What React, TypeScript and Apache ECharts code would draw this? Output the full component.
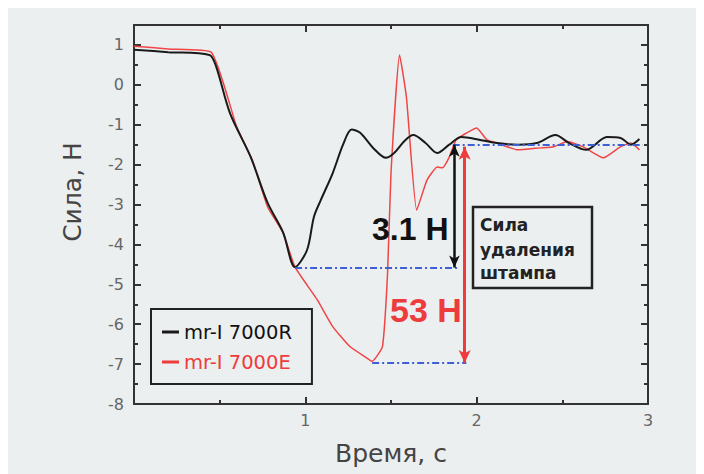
import React, { useEffect, useRef } from "react";
import * as echarts from "echarts";

// Time (s) and force (N) for the two resists
const timeR = [0, 0.2, 0.44, 0.48, 0.56, 0.68, 0.78, 0.87, 0.94, 1.01, 1.05, 1.09, 1.16, 1.22, 1.27, 1.32, 1.4, 1.47, 1.52, 1.58, 1.63, 1.7, 1.77, 1.84, 1.91, 2.02, 2.12, 2.24, 2.35, 2.46, 2.54, 2.64, 2.76, 2.84, 2.9, 2.95];
const forceR = [0.88, 0.82, 0.75, 0.45, -0.71, -1.8, -2.96, -3.7, -4.57, -4.14, -3.31, -2.89, -2.21, -1.5, -1.12, -1.2, -1.6, -1.83, -1.7, -1.4, -1.26, -1.45, -1.71, -1.5, -1.31, -1.38, -1.46, -1.5, -1.46, -1.26, -1.46, -1.63, -1.31, -1.33, -1.5, -1.36];

const timeE = [0, 0.2, 0.45, 0.6, 0.69, 0.78, 0.87, 0.94, 1.07, 1.16, 1.26, 1.36, 1.39, 1.45, 1.48, 1.5, 1.55, 1.59, 1.65, 1.71, 1.77, 1.8, 1.84, 1.88, 1.94, 2.0, 2.06, 2.12, 2.24, 2.37, 2.45, 2.53, 2.62, 2.74, 2.84, 2.9, 2.95];
const forceE = [0.97, 0.9, 0.82, -1.06, -1.88, -3.06, -3.71, -4.57, -5.39, -6.06, -6.56, -6.85, -6.93, -6.56, -4.72, -2.21, 0.75, -0.31, -3.14, -2.39, -2.06, -2.08, -1.81, -1.38, -1.21, -1.08, -1.38, -1.46, -1.63, -1.58, -1.55, -1.42, -1.55, -1.83, -1.55, -1.46, -1.63];

const seriesNames = ["mr-I 7000R", "mr-I 7000E"];

// Reference levels (N) and their time spans
const levelTop = -1.5;
const levelR = -4.58;
const levelE = -6.97;
const topSpan = [1.86, 2.97];
const rSpan = [0.94, 1.89];
const eSpan = [1.39, 1.94];
const arrowR = { t: 1.87, from: -1.5, to: -4.58 };
const arrowE = { t: 1.93, from: -1.55, to: -6.97 };

const labelR = "3.1 Н";
const labelE = "53 Н";
const boxLines = ["Сила", "удаления", "штампа"];

const FONT = "'DejaVu Sans', sans-serif";

export default function App() {
  const ref = useRef<HTMLDivElement>(null);
  useEffect(() => {
    if (!ref.current) return;
    const chart = echarts.init(ref.current, undefined, { renderer: "svg" });
    const axisLine = { show: true, onZero: false, lineStyle: { color: "#333", width: 2 } };
    const axisTick = { show: true, inside: true, length: 7, lineStyle: { color: "#333", width: 2 } };
    const minorTick = { show: true, splitNumber: 2, length: 4, lineStyle: { color: "#333", width: 2 } };
    const blue = { color: "#3f5fd4", width: 1.8, type: [7, 3, 2, 3] as any };
    const option: any = {
      animation: false,
      backgroundColor: "#eceff0",
      textStyle: { fontFamily: FONT },
      grid: { left: 126, top: 17, right: 56, bottom: 70, show: false },
      legend: {
        orient: "vertical",
        left: 143,
        top: 301,
        icon: "rect",
        itemWidth: 17,
        itemHeight: 3,
        itemGap: 10,
        padding: [13, 20, 12, 11],
        borderColor: "#222",
        borderWidth: 2,
        data: [
          { name: seriesNames[0], textStyle: { color: "#111" } },
          { name: seriesNames[1], textStyle: { color: "#ee3b3b" } },
        ],
        textStyle: { fontSize: 19.5, fontFamily: FONT },
      },
      xAxis: [
        {
          type: "value",
          min: 0,
          max: 3,
          interval: 1,
          position: "bottom",
          axisLine,
          axisTick,
          minorTick,
          splitLine: { show: false },
          axisLabel: {
            color: "#666",
            fontSize: 16,
            margin: 8,
            formatter: (v: number) => (v === 0 ? "" : String(v)),
          },
          name: "Время, с",
          nameLocation: "middle",
          nameGap: 37,
          nameTextStyle: { fontSize: 25, color: "#444", fontFamily: FONT },
        },
        {
          type: "value",
          min: 0,
          max: 3,
          interval: 1,
          position: "top",
          axisLine,
          axisTick,
          minorTick,
          splitLine: { show: false },
          axisLabel: { show: false },
        },
      ],
      yAxis: [
        {
          type: "value",
          min: -8,
          max: 1.5,
          interval: 1,
          position: "left",
          axisLine,
          axisTick,
          minorTick,
          splitLine: { show: false },
          axisLabel: {
            color: "#666",
            fontSize: 16,
            margin: 10,
            formatter: (v: number) => (Number.isInteger(v) ? String(v) : ""),
          },
        },
        {
          type: "value",
          min: -8,
          max: 1.5,
          interval: 1,
          position: "right",
          axisLine,
          axisTick,
          minorTick,
          splitLine: { show: false },
          axisLabel: { show: false },
        },
      ],
      series: [
        {
          name: seriesNames[0],
          type: "line",
          data: timeR.map((t, i) => [t, forceR[i]]),
          smooth: 0.3,
          symbol: "none",
          color: "#1a1a1a",
          lineStyle: { color: "#1a1a1a", width: 2 },
          z: 3,
        },
        {
          name: seriesNames[1],
          type: "line",
          data: timeE.map((t, i) => [t, forceE[i]]),
          smooth: 0.15,
          symbol: "none",
          color: "#ee3b3b",
          lineStyle: { color: "#f04545", width: 1.5 },
          z: 2,
        },
        {
          name: "levels",
          type: "line",
          data: [],
          markLine: {
            silent: true,
            symbol: ["none", "none"],
            label: { show: false },
            lineStyle: blue,
            data: [
              [{ coord: [topSpan[0], levelTop] }, { coord: [topSpan[1], levelTop] }],
              [{ coord: [rSpan[0], levelR] }, { coord: [rSpan[1], levelR] }],
              [{ coord: [eSpan[0], levelE] }, { coord: [eSpan[1], levelE] }],
            ],
          },
          z: 4,
        },
        {
          name: "arrowR",
          type: "line",
          data: [],
          markLine: {
            silent: true,
            symbol: ["arrow", "arrow"],
            symbolSize: [8, 12],
            label: { show: false },
            lineStyle: { color: "#111", width: 2.5, type: "solid" },
            data: [[{ coord: [arrowR.t, arrowR.from] }, { coord: [arrowR.t, arrowR.to] }]],
          },
          z: 5,
        },
        {
          name: "arrowE",
          type: "line",
          data: [],
          markLine: {
            silent: true,
            symbol: ["arrow", "arrow"],
            symbolSize: [9, 13],
            label: { show: false },
            lineStyle: { color: "#ee3b3b", width: 3, type: "solid" },
            data: [[{ coord: [arrowE.t, arrowE.from] }, { coord: [arrowE.t, arrowE.to] }]],
          },
          z: 5,
        },
      ],
      graphic: [
        {
          type: "text",
          x: 64,
          y: 184,
          rotation: Math.PI / 2,
          style: {
            text: "Сила, Н",
            fill: "#444",
            font: `25px ${FONT}`,
            align: "center",
            verticalAlign: "middle",
          },
        },
        {
          type: "text",
          x: 364,
          y: 221,
          z: 10,
          style: {
            text: labelR,
            fill: "#111",
            font: "bold 32px 'Liberation Sans', Arial, sans-serif",
            align: "left",
            verticalAlign: "middle",
          },
        },
        {
          type: "text",
          x: 382,
          y: 302,
          z: 10,
          style: {
            text: labelE,
            fill: "#ee3b3b",
            font: "bold 34px 'Liberation Sans', Arial, sans-serif",
            align: "left",
            verticalAlign: "middle",
          },
        },
        {
          type: "rect",
          shape: { x: 465, y: 199, width: 119, height: 81 },
          style: { fill: "none", stroke: "#222", lineWidth: 2.5 },
          z: 10,
        },
        ...boxLines.map((t, i) => ({
          type: "text",
          x: 472,
          y: [217, 242, 265][i],
          z: 10,
          style: {
            text: t,
            fill: "#222",
            font: `bold 17px ${FONT}`,
            align: "left",
            verticalAlign: "middle",
          },
        })),
      ],
    };
    chart.setOption(option);
    return () => chart.dispose();
  }, []);
  return <div ref={ref} style={{ width: 696, height: 466 }} />;
}
